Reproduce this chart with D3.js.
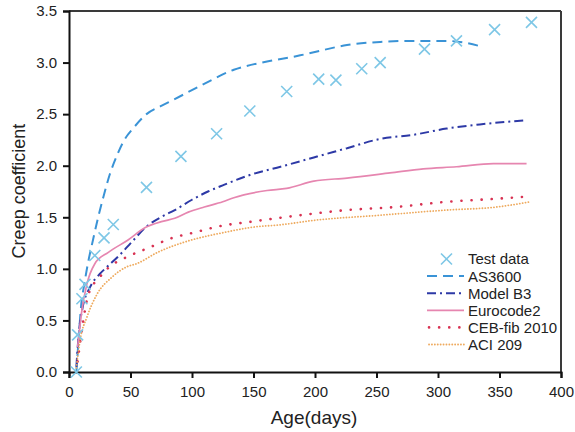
<!DOCTYPE html>
<html>
<head>
<meta charset="utf-8">
<script src="https://cdn.jsdelivr.net/npm/d3@7"></script>
<style>
  html, body { margin: 0; padding: 0; background: #fff; }
  svg { display: block; font-family: "Liberation Sans", Arial, sans-serif; }
</style>
</head>
<body>
<svg id="chart" width="575" height="432"></svg>
<script>
// Measured creep coefficient and model predictions versus concrete age
const testDays = [6, 7, 10.5, 13, 21, 28.5, 36, 63, 91, 120, 147, 177, 203, 217, 238, 253, 289, 315, 346, 376];
const testVals = [0.0, 0.36, 0.71, 0.85, 1.13, 1.30, 1.43, 1.79, 2.09, 2.31, 2.53, 2.72, 2.84, 2.83, 2.94, 3.00, 3.13, 3.21, 3.32, 3.39];

const as3600Days = [6, 8, 10, 12, 15.5, 19.5, 23.5, 28, 33, 39, 45, 52, 63, 75, 85, 106, 134, 161, 188, 199, 226, 253, 280, 307, 323, 337];
const as3600Vals = [0, 0.35, 0.66, 0.82, 1.06, 1.28, 1.49, 1.70, 1.91, 2.10, 2.25, 2.36, 2.50, 2.58, 2.64, 2.77, 2.93, 3.01, 3.07, 3.10, 3.17, 3.20, 3.21, 3.21, 3.19, 3.15];

const b3Days = [6, 8, 11, 17, 25, 31, 40, 51, 63, 76, 86, 100, 113, 125, 147, 172, 199, 226, 253, 280, 307, 334, 370];
const b3Vals = [0.05, 0.38, 0.62, 0.82, 0.95, 1.02, 1.12, 1.26, 1.41, 1.51, 1.57, 1.67, 1.75, 1.81, 1.91, 1.99, 2.08, 2.17, 2.26, 2.30, 2.36, 2.40, 2.44];

const ec2Days = [7, 10.5, 14.5, 21, 32, 48, 62, 76, 86, 97, 110, 125, 134, 161, 177, 199, 226, 261, 288, 315, 345, 372];
const ec2Vals = [0.24, 0.60, 0.85, 1.05, 1.16, 1.28, 1.40, 1.46, 1.49, 1.55, 1.60, 1.65, 1.69, 1.76, 1.78, 1.85, 1.88, 1.93, 1.97, 1.99, 2.02, 2.02];

const cebDays = [7, 10.5, 15.7, 25, 32, 48, 64, 84, 101, 121, 150, 188, 226, 266, 307, 348, 372];
const cebVals = [0.10, 0.41, 0.75, 0.92, 1.01, 1.12, 1.20, 1.30, 1.35, 1.41, 1.46, 1.52, 1.57, 1.60, 1.65, 1.68, 1.70];

const aciDays = [6, 9, 14.5, 22.6, 35, 47, 55, 72, 94, 113, 125, 147, 174, 199, 253, 307, 348, 375];
const aciVals = [0.04, 0.31, 0.53, 0.75, 0.92, 1.02, 1.05, 1.16, 1.26, 1.32, 1.35, 1.40, 1.43, 1.47, 1.52, 1.57, 1.60, 1.65];

const xTicks = [0, 50, 100, 150, 200, 250, 300, 350, 400];
const yTicks = [0, 0.5, 1.0, 1.5, 2.0, 2.5, 3.0, 3.5];

const legendLabels = ["Test data", "AS3600", "Model B3", "Eurocode2", "CEB-fib 2010", "ACI 209"];

// Styling for each model curve
const lineStyles = [
  { days: as3600Days, vals: as3600Vals, color: "#3a93d6", width: 2, dash: "10,6", cap: "butt" },
  { days: b3Days, vals: b3Vals, color: "#2d39a6", width: 2, dash: "9,4,2,4", cap: "butt" },
  { days: ec2Days, vals: ec2Vals, color: "#e686b0", width: 1.7, dash: null, cap: "butt" },
  { days: cebDays, vals: cebVals, color: "#d83252", width: 2.6, dash: "0.1,10", cap: "round" },
  { days: aciDays, vals: aciVals, color: "#eeaa5e", width: 1.8, dash: "0.1,2.8", cap: "round" }
];

const svg = d3.select("#chart");
const margin = { left: 69, top: 11, right: 14, bottom: 60 };
const W = 575, H = 432;

const x = d3.scaleLinear().domain([0, 400]).range([margin.left, W - margin.right]);
const y = d3.scaleLinear().domain([0, 3.5]).range([H - margin.bottom, margin.top]);

// Frame: top and right borders
svg.append("line")
  .attr("x1", x(0)).attr("x2", x(400)).attr("y1", y(3.5)).attr("y2", y(3.5))
  .attr("stroke", "#3a3a3a").attr("stroke-width", 2);
svg.append("line")
  .attr("x1", x(400)).attr("x2", x(400)).attr("y1", y(3.5)).attr("y2", y(0))
  .attr("stroke", "#3a3a3a").attr("stroke-width", 2);

// Axes
const xAxis = svg.append("g")
  .attr("transform", `translate(0,${y(0)})`)
  .call(d3.axisBottom(x).tickValues(xTicks).tickSize(6).tickPadding(8).tickFormat(d3.format("d")));
const yAxis = svg.append("g")
  .attr("transform", `translate(${x(0)},0)`)
  .call(d3.axisLeft(y).tickValues(yTicks).tickSize(6).tickPadding(6).tickFormat(d3.format(".1f")));

[xAxis, yAxis].forEach(g => {
  g.select(".domain").attr("stroke", "#111").attr("stroke-width", 2);
  g.selectAll(".tick line").attr("stroke", "#111").attr("stroke-width", 2);
  g.selectAll(".tick text").attr("font-size", 15).attr("fill", "#222")
    .attr("font-family", "'Liberation Sans', Arial, sans-serif");
});

// Axis titles
svg.append("text")
  .attr("x", 314).attr("y", 424)
  .attr("text-anchor", "middle")
  .attr("font-size", 19).attr("fill", "#222")
  .text("Age(days)");
svg.append("text")
  .attr("transform", `translate(25,191) rotate(-90)`)
  .attr("text-anchor", "middle")
  .attr("font-size", 18).attr("fill", "#222")
  .text("Creep coefficient");

// Model curves
const line = d3.line()
  .x(d => x(d[0]))
  .y(d => y(d[1]))
  .curve(d3.curveMonotoneX);

lineStyles.forEach(s => {
  svg.append("path")
    .datum(s.days.map((d, i) => [d, s.vals[i]]))
    .attr("d", line)
    .attr("fill", "none")
    .attr("stroke", s.color)
    .attr("stroke-width", s.width)
    .attr("stroke-dasharray", s.dash)
    .attr("stroke-linecap", s.cap);
});

// Test data crosses
const crossColor = "#7ec7e6";
const arm = 5.5;
function cross(g, cx, cy) {
  g.append("path")
    .attr("d", `M${cx - arm},${cy - arm}L${cx + arm},${cy + arm}M${cx - arm},${cy + arm}L${cx + arm},${cy - arm}`)
    .attr("stroke", crossColor).attr("stroke-width", 1.6).attr("fill", "none");
}
const pts = svg.append("g");
testDays.forEach((d, i) => cross(pts, x(d), y(testVals[i])));

// Legend
const lg = svg.append("g");
const lx0 = 427, lx1 = 464, ltx = 468, ly0 = 259, ldy = 17.1;
legendLabels.forEach((lab, i) => {
  const cy = ly0 + i * ldy;
  if (i === 0) {
    cross(lg, (lx0 + lx1) / 2 + 1, cy);
  } else {
    const s = lineStyles[i - 1];
    lg.append("line")
      .attr("x1", s.cap === "round" ? lx0 + 2 : lx0).attr("x2", lx1)
      .attr("y1", cy).attr("y2", cy)
      .attr("stroke", s.color).attr("stroke-width", s.width)
      .attr("stroke-dasharray", s.dash).attr("stroke-linecap", s.cap);
  }
  lg.append("text")
    .attr("x", ltx).attr("y", cy)
    .attr("dy", "0.36em")
    .attr("font-size", 15).attr("fill", "#222")
    .text(lab);
});
</script>
</body>
</html>
